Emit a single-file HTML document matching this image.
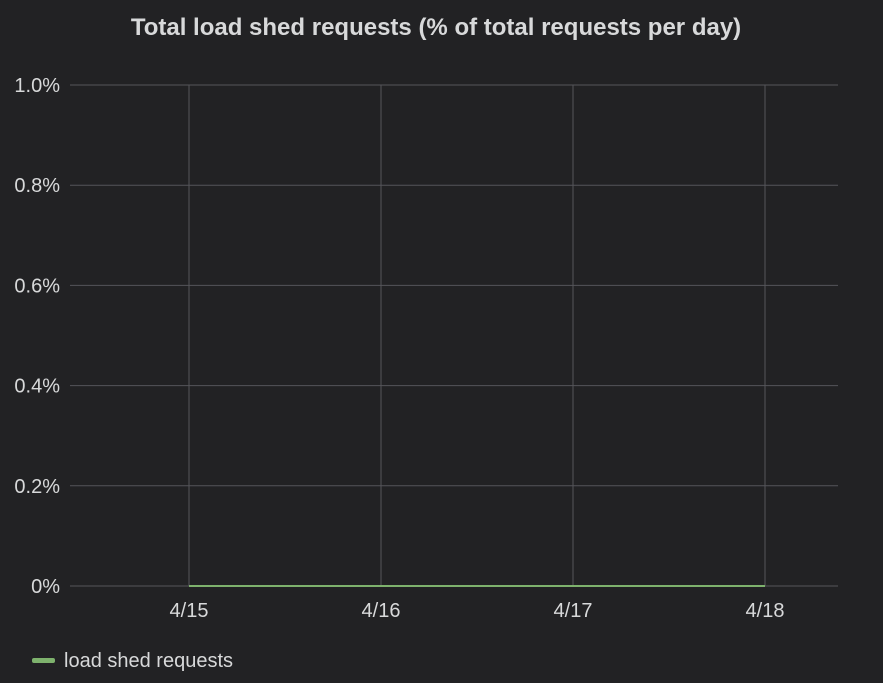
<!DOCTYPE html>
<html><head><meta charset="utf-8"><style>
html,body{margin:0;padding:0;background:#222224;}
body{width:883px;height:678px;overflow:hidden;font-family:"Liberation Sans",sans-serif;}
</style></head><body>
<svg width="883" height="678">
<rect width="883" height="678" fill="#222224"/>
<text x="436" y="35" text-anchor="middle" fill="#d8d9da" font-size="24" font-weight="bold">Total load shed requests (% of total requests per day)</text>
<g id="grid"></g><g id="yticks"></g><g id="xticks"></g><g id="series"></g>
<rect x="32" y="658" width="23" height="5" rx="2" fill="#7eb26d"/>
<text x="64" y="667" fill="#d8d9da" font-size="20">load shed requests</text>
</svg>
<script>
const yTicks=[0,0.2,0.4,0.6,0.8,1.0];
const yLabels=["0%","0.2%","0.4%","0.6%","0.8%","1.0%"];
const xCats=["4/15","4/16","4/17","4/18"];
const seriesValues=[0,0,0,0];
const ns="http://www.w3.org/2000/svg";
const x0=70,x1=838,y0=586,y1=85;
function yS(v){return y0-(v/1.0)*(y0-y1);}
function xS(i){return 189+i*192;}
function mk(t,a,p){const e=document.createElementNS(ns,t);for(const k in a)e.setAttribute(k,a[k]);document.getElementById(p).appendChild(e);return e;}
yTicks.forEach((v,i)=>{
 const l=mk("line",{x1:x0,x2:x1,y1:yS(v),y2:yS(v),stroke:"#55555a","stroke-width":1},"grid");
 
 
 const t=mk("text",{x:60,y:yS(v)+7,"text-anchor":"end",fill:"#d8d9da","font-size":"20"},"yticks");
 t.textContent=yLabels[i];
 
 
});
xCats.forEach((c,i)=>{
 const l=mk("line",{x1:xS(i),x2:xS(i),y1:y1,y2:y0,stroke:"#55555a","stroke-width":1},"grid");
 
 
 const t=mk("text",{x:xS(i),y:617,"text-anchor":"middle",fill:"#d8d9da","font-size":"20"},"xticks");
 t.textContent=c;
 
 
});
const pts=seriesValues.map((v,i)=>xS(i)+","+yS(v)).join(" ");
const pl=mk("polyline",{points:pts,fill:"none",stroke:"#7eb26d","stroke-width":2},"series");


</script>
</body></html>
